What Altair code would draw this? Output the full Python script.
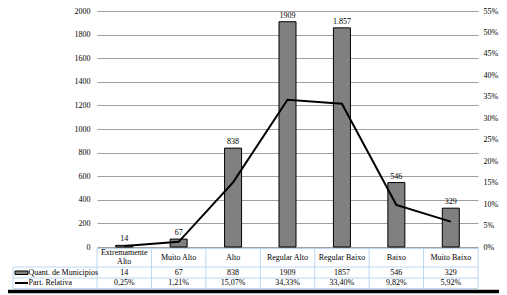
import altair as alt
import pandas as pd

cats = ["Extremamente Alto", "Muito Alto", "Alto", "Regular Alto", "Regular Baixo", "Baixo", "Muito Baixo"]
header = ["Extremamente\nAlto", "Muito Alto", "Alto", "Regular Alto", "Regular Baixo", "Baixo", "Muito Baixo"]
quant = [14, 67, 838, 1909, 1857, 546, 329]
bar_labels = ["14", "67", "838", "1909", "1.857", "546", "329"]
quant_labels = ["14", "67", "838", "1909", "1857", "546", "329"]
part = [0.25, 1.21, 15.07, 34.33, 33.40, 9.82, 5.92]
part_labels = ["0,25%", "1,21%", "15,07%", "34,33%", "33,40%", "9,82%", "5,92%"]
left_ticks = list(range(0, 2001, 200))
right_ticks = list(range(0, 56, 5))

df = pd.DataFrame({"cat": cats, "header": header, "quant": quant, "bl": bar_labels,
                   "ql": quant_labels, "part": part, "pl": part_labels})

W, H = 381, 236
PAD_L, PAD_R, PAD_T, PAD_B = 89, 21, 3, 48
OFF = 11  # page y of plot top
FONT = "Liberation Serif"
FS = 8
GRID_BLUE = "#bcd6f0"


def py(page_y):
    return page_y - OFF


xenc = alt.X("cat:N", sort=cats, axis=None,
             scale=alt.Scale(paddingInner=0, paddingOuter=0))
yq = alt.Y("quant:Q", scale=alt.Scale(domain=[0, 2000], nice=False, zero=True),
           axis=alt.Axis(values=left_ticks, format="d", title=None, ticks=False, domain=False,
                         grid=True, gridColor="#a0a0a0", gridWidth=1, labelPadding=7,
                         labelFont=FONT, labelFontSize=FS, labelColor="black"))

base = alt.Chart(df)

bars = base.mark_bar(size=17, color="#808080", stroke="black", strokeWidth=1).encode(x=xenc, y=yq)
bar_text = base.mark_text(font=FONT, fontSize=FS, color="black", baseline="alphabetic", dy=-4).encode(
    x=xenc, y=yq, text="bl:N")

t_head1 = base.transform_filter("indexof(datum.header, '\\n') < 0").mark_text(
    font=FONT, fontSize=FS, color="black", baseline="middle").encode(
    x=xenc, y=alt.value(py(257.5)), text="header:N")
t_head2 = base.transform_filter("indexof(datum.header, '\\n') >= 0").mark_text(
    font=FONT, fontSize=FS, color="black", baseline="middle",
    lineBreak="\n", lineHeight=9).encode(x=xenc, y=alt.value(py(253)), text="header:N")
t_q = base.mark_text(font=FONT, fontSize=FS, color="black", baseline="middle").encode(
    x=xenc, y=alt.value(py(272.7)), text="ql:N")
t_p = base.mark_text(font=FONT, fontSize=FS, color="black", baseline="middle").encode(
    x=xenc, y=alt.value(py(282.7)), text="pl:N")

one = alt.Chart(pd.DataFrame({"a": [0]}))


def hrule(x1, x2, y, color=GRID_BLUE, w=1):
    return one.mark_rule(color=color, strokeWidth=w).encode(
        x=alt.value(x1), x2=alt.value(x2), y=alt.value(y))


def vrule(x, y1, y2, color=GRID_BLUE, w=1):
    return one.mark_rule(color=color, strokeWidth=w).encode(
        x=alt.value(x), y=alt.value(y1), y2=alt.value(y2))


TOP, R1, R2, BOT = py(248.5), py(267), py(278), py(288.5)

vlines = base.mark_rule(color=GRID_BLUE, strokeWidth=1).encode(
    x=alt.X("cat:N", sort=cats, axis=None, bandPosition=0,
            scale=alt.Scale(paddingInner=0, paddingOuter=0)),
    y=alt.value(TOP), y2=alt.value(BOT))

table_lines = [
    hrule(0, W, TOP), hrule(-84, W, R1), hrule(-84, W, R2), hrule(-84, W, BOT),
    vrule(W, TOP, BOT), vrule(-84, R1, BOT),
]

legend_rect = one.mark_rect(fill="#808080", stroke="black", strokeWidth=1).encode(
    x=alt.value(-82), x2=alt.value(-69), y=alt.value(py(271)), y2=alt.value(py(274.5)))
legend_line = one.mark_rule(color="black", strokeWidth=2).encode(
    x=alt.value(-82), x2=alt.value(-69), y=alt.value(py(283)))
leg_t1 = one.mark_text(font=FONT, fontSize=FS, color="black", align="left", baseline="middle").encode(
    x=alt.value(-68.5), y=alt.value(py(272.7)), text=alt.value("Quant. de Municipios"))
leg_t2 = one.mark_text(font=FONT, fontSize=FS, color="black", align="left", baseline="middle").encode(
    x=alt.value(-68.5), y=alt.value(py(282.7)), text=alt.value("Part. Relativa"))

frame = [
    hrule(-PAD_L, W + PAD_R, py(291.5), color="black", w=3.5),
]

left = alt.layer(bars, bar_text, t_head1, t_head2, t_q, t_p, vlines, *table_lines,
                 legend_rect, legend_line, leg_t1, leg_t2, *frame)

line = base.mark_line(color="black", strokeWidth=2).encode(
    x=xenc,
    y=alt.Y("part:Q", scale=alt.Scale(domain=[0, 55], nice=False, zero=True),
            axis=alt.Axis(orient="right", values=right_ticks, labelExpr="datum.value + '%'",
                          title=None, ticks=False, domain=False, grid=False, labelPadding=5,
                          labelFont=FONT, labelFontSize=FS, labelColor="black")))

chart = alt.layer(left, line).resolve_scale(y="independent").properties(
    width=W, height=H,
    autosize=alt.AutoSizeParams(type="none"),
    padding={"left": PAD_L, "right": PAD_R, "top": PAD_T, "bottom": PAD_B},
    background="white",
).configure_view(stroke=None)

chart.save("out.html", embed_options={"renderer": "svg", "actions": False})
